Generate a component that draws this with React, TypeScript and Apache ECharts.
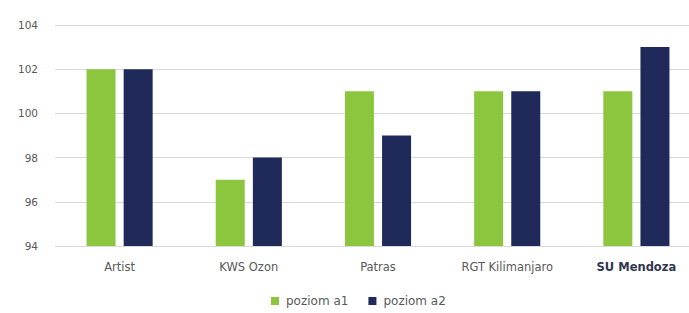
import React, { useEffect, useRef } from "react";
import * as echarts from "echarts";

const categories = ["Artist", "KWS Ozon", "Patras", "RGT Kilimanjaro", "SU Mendoza"];
const seriesA1 = [102, 97, 101, 101, 101];
const seriesA2 = [102, 98, 99, 101, 103];
const seriesNames = ["poziom a1", "poziom a2"];
const yTicks = { min: 94, max: 104, step: 2 };

export default function App() {
  const ref = useRef<HTMLDivElement>(null);
  useEffect(() => {
    const chart = echarts.init(ref.current!, null, { renderer: "svg" });
    chart.setOption({
      animation: false,
      backgroundColor: "#ffffff",
      textStyle: { fontFamily: "DejaVu Sans" },
      legend: {
        top: 290,
        left: 266,
        itemWidth: 8,
        itemHeight: 8,
        itemGap: 20,
        icon: "rect",
        textStyle: { color: "#595959", fontSize: 12, fontFamily: "DejaVu Sans", padding: [0, 0, 0, 2] },
        data: seriesNames,
      },
      grid: {
        left: 55,
        right: -12,
        top: 25,
        bottom: 67,
        containLabel: false,
        outerBoundsMode: "none",
      },
      xAxis: {
        type: "category",
        data: categories,
        axisLine: { show: false },
        axisTick: { show: false },
        axisLabel: {
          color: "#595959",
          fontSize: 11.5,
          margin: 15,
          fontFamily: "DejaVu Sans",
          formatter: (v: string) => (v === "SU Mendoza" ? "{b|" + v + "}" : v),
          rich: { b: { fontWeight: "bold", color: "#2f3650", fontSize: 11.5, fontFamily: "DejaVu Sans" } },
        },
      },
      yAxis: {
        type: "value",
        min: yTicks.min,
        max: yTicks.max,
        interval: yTicks.step,
        axisLine: { show: false },
        axisTick: { show: false },
        axisLabel: { color: "#595959", fontSize: 10.5, margin: 17, fontFamily: "DejaVu Sans" },
        splitLine: { lineStyle: { color: "#d9d9d9", width: 1 } },
      },
      series: [
        {
          name: seriesNames[0],
          type: "bar",
          data: seriesA1,
          barWidth: 29,
          barGap: "28%",
          itemStyle: { color: "#8cc63f" },
        },
        {
          name: seriesNames[1],
          type: "bar",
          data: seriesA2,
          barWidth: 29,
          itemStyle: { color: "#1f2a5a" },
        },
      ],
    });
    return () => chart.dispose();
  }, []);
  return (
    <div
      ref={ref}
      style={{ position: "absolute", left: 0, top: 0, width: 689, height: 313 }}
    />
  );
}
